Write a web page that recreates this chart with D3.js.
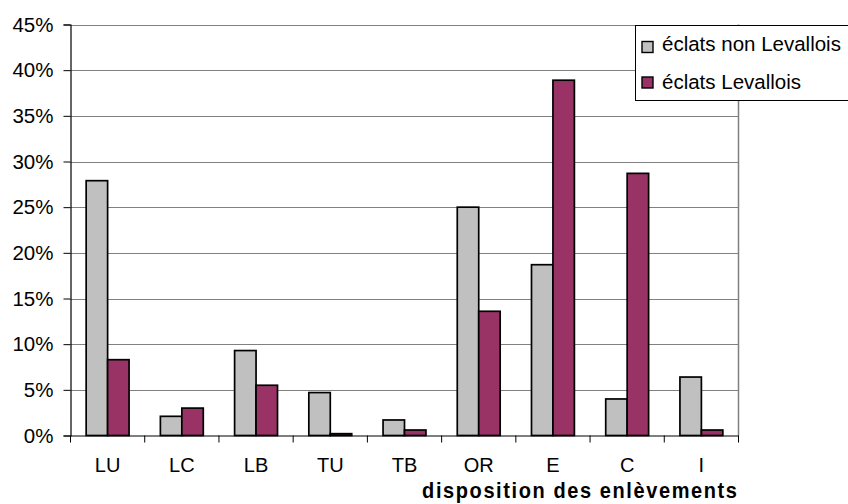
<!DOCTYPE html>
<html>
<head>
<meta charset="utf-8">
<script src="https://cdn.jsdelivr.net/npm/d3@7/dist/d3.min.js"></script>
<style>
  html, body { margin: 0; padding: 0; background: #fff; }
  svg { display: block; font-family: Arial, "Liberation Sans", sans-serif; }
</style>
</head>
<body>
<svg id="chart" width="848" height="504"></svg>
<script>
// Removal disposition categories
const categories = ["LU", "LC", "LB", "TU", "TB", "OR", "E", "C", "I"];
const seriesNames = ["éclats non Levallois", "éclats Levallois"];
// Percentages per category
const nonLevallois = [27.9, 2.1, 9.3, 4.7, 1.7, 25.0, 18.7, 4.0, 6.4];
const levallois    = [8.3, 3.0, 5.5, 0.2, 0.6, 13.6, 38.9, 28.7, 0.6];
const yTicks = [0, 5, 10, 15, 20, 25, 30, 35, 40, 45];
const colors = ["#C0C0C0", "#993366"];
const xTitle = "disposition des enlèvements";

const FONT = "Arial, 'Liberation Sans', sans-serif";
const svg = d3.select("#chart");
const plot = { left: 70.5, right: 738.5, top: 24.5, bottom: 435.5 };

const x0 = d3.scaleBand().domain(categories).range([plot.left, plot.right]).padding(0);
const x1 = d3.scaleBand().domain(seriesNames).range([0, x0.bandwidth()])
  .paddingInner(0).paddingOuter(0.73);
const y = d3.scaleLinear().domain([0, 45]).range([plot.bottom, plot.top]);

// Horizontal gridlines
svg.append("g")
  .selectAll("line")
  .data(yTicks.filter(d => d > 0))
  .join("line")
  .attr("x1", plot.left).attr("x2", plot.right)
  .attr("y1", d => Math.round(y(d)) + 0.5).attr("y2", d => Math.round(y(d)) + 0.5)
  .attr("stroke", "#808080").attr("stroke-width", 1);

// Right border of plot area
svg.append("line")
  .attr("x1", plot.right).attr("x2", plot.right)
  .attr("y1", y(45)).attr("y2", plot.bottom)
  .attr("stroke", "#808080").attr("stroke-width", 1.5);

// Bars
const rows = categories.map((c, i) => ({ cat: c, vals: [nonLevallois[i], levallois[i]] }));
const groups = svg.append("g").selectAll("g")
  .data(rows).join("g")
  .attr("transform", d => `translate(${x0(d.cat)},0)`);
groups.selectAll("rect")
  .data(d => d.vals.map((v, k) => ({ key: seriesNames[k], v, k })))
  .join("rect")
  .attr("x", d => x1(d.key))
  .attr("width", x1.bandwidth())
  .attr("y", d => y(d.v))
  .attr("height", d => y(0) - y(d.v))
  .attr("fill", d => colors[d.k])
  .attr("stroke", "#000").attr("stroke-width", 1.7);

// Y axis
const yAxis = d3.axisLeft(y).tickValues(yTicks).tickFormat(d => d + "%")
  .tickSize(7).tickPadding(10);
const gy = svg.append("g").attr("transform", `translate(${plot.left},0)`).call(yAxis);
gy.select(".domain").attr("stroke", "#000").attr("stroke-width", 1.2);
gy.selectAll(".tick line").attr("stroke", "#000");
gy.selectAll(".tick text").attr("font-size", 20.5).attr("fill", "#000")
  .attr("font-family", FONT);

// X axis with ticks at category boundaries
const xAxis = d3.axisBottom(x0).tickSize(0).tickPadding(22);
const gx = svg.append("g").attr("transform", `translate(0,${plot.bottom})`).call(xAxis);
gx.select(".domain").attr("stroke", "#000").attr("stroke-width", 1.2);
gx.selectAll(".tick text").attr("font-size", 20).attr("fill", "#000")
  .attr("font-family", FONT);
gx.selectAll("line.bound")
  .data(categories.map(c => x0(c)).concat([plot.right]))
  .join("line").attr("class", "bound")
  .attr("x1", d => d).attr("x2", d => d)
  .attr("y1", 0).attr("y2", 7)
  .attr("stroke", "#000");

// Axis title (slightly tall, spaced lettering)
svg.append("text")
  .attr("transform", `translate(${plot.right},498) scale(1,1.12)`)
  .attr("text-anchor", "end")
  .attr("font-size", 20).attr("font-weight", "bold")
  .attr("letter-spacing", 1.6)
  .text(xTitle);

// Legend
const legend = svg.append("g");
legend.append("rect")
  .attr("x", 635.5).attr("y", 25.5).attr("width", 230).attr("height", 75)
  .attr("fill", "#fff").attr("stroke", "#000").attr("stroke-width", 1);
seriesNames.forEach((name, i) => {
  const yy = 41.5 + i * 35.5;
  legend.append("rect")
    .attr("x", 642).attr("y", yy).attr("width", 11).attr("height", 11)
    .attr("fill", colors[i]).attr("stroke", "#000").attr("stroke-width", 1.4);
  legend.append("text")
    .attr("x", 662).attr("y", 50.5 + i * 38)
    .attr("font-size", 20.5).attr("fill", "#000")
    .text(name);
});
</script>
</body>
</html>
